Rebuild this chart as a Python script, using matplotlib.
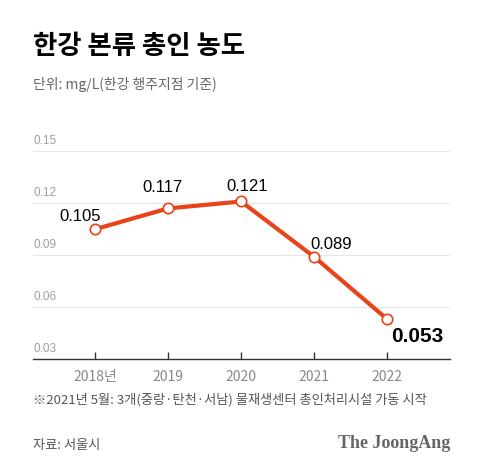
import matplotlib
matplotlib.use("Agg")
import matplotlib.pyplot as plt

plt.rcParams['font.family'] = ['Noto Sans CJK KR', 'DejaVu Sans']

years = ["2018년", "2019", "2020", "2021", "2022"]
values = [0.105, 0.117, 0.121, 0.089, 0.053]
value_labels = ["0.105", "0.117", "0.121", "0.089", "0.053"]
yticks = [0.03, 0.06, 0.09, 0.12, 0.15]
ytick_labels = ["0.03", "0.06", "0.09", "0.12", "0.15"]

fig = plt.figure(figsize=(4.8, 4.74), dpi=100)
fig.patch.set_facecolor("white")
ax = fig.add_axes([33/480, 1-359/474, (450-33)/480, (359-151.3)/474])

x = list(range(len(years)))
color = "#E8431A"
ax.plot(x, values, color=color, lw=3, zorder=3, clip_on=False)
ax.plot(x, values, 'o', ms=7.5, mfc="white", mec=color, mew=1.2, zorder=4, clip_on=False)

ax.set_xlim(-0.85, 4.86)
ax.set_ylim(0.03, 0.15)
ax.set_yticks(yticks)
ax.set_yticklabels([])
for t, lab in zip(yticks, ytick_labels):
    ax.annotate(lab, xy=(0, t), xycoords=('axes fraction', 'data'),
                xytext=(0, 4), textcoords='offset pixels',
                ha='left', va='bottom', fontsize=8.5, color="#a0a0a0",
                family=['Liberation Sans'])
ax.grid(axis='y', color="#e6e6e6", lw=0.8)
ax.tick_params(axis='y', length=0)
ax.set_xticks(x)
ax.set_xticklabels(years, fontsize=10, color="#888888")
ax.tick_params(axis='x', direction='in', length=5, width=1, color="#333333", pad=8)
for s in ['top', 'right', 'left']:
    ax.spines[s].set_visible(False)
ax.spines['bottom'].set_color("#333333")
ax.spines['bottom'].set_linewidth(1)
ax.set_axisbelow(True)

offsets = [(-15, 13), (-6, 21), (6, 15), (17, 12), (30, -17)]
for i, (v, lab) in enumerate(zip(values, value_labels)):
    last = i == len(values) - 1
    ax.annotate(lab, xy=(i, v), xytext=offsets[i], textcoords='offset pixels',
                ha='center', va='center',
                fontsize=15 if last else 12,
                fontweight='bold' if last else 'normal',
                color="black", family=['Liberation Sans'])

fig.text(33/480, 1-46/474, "한강 본류 총인 농도", fontsize=19, fontweight='bold',
         color="black", ha='left', va='center')
fig.text(33/480, 1-84/474, "단위: mg/L(한강 행주지점 기준)", fontsize=10,
         color="#666666", ha='left', va='center')
fig.text(33/480, 1-400/474, "※2021년 5월: 3개(중랑·탄천·서남) 물재생센터 총인처리시설 가동 시작",
         fontsize=9.5, color="#555555", ha='left', va='center')
fig.text(33/480, 1-446/474, "자료: 서울시", fontsize=9.5, color="#555555",
         ha='left', va='center')
fig.text(450/480, 1-444/474, "The JoongAng", fontsize=13, fontweight='bold',
         color="#666666", ha='right', va='center', family=['Liberation Serif'])

fig.savefig("out.png", dpi=100)
